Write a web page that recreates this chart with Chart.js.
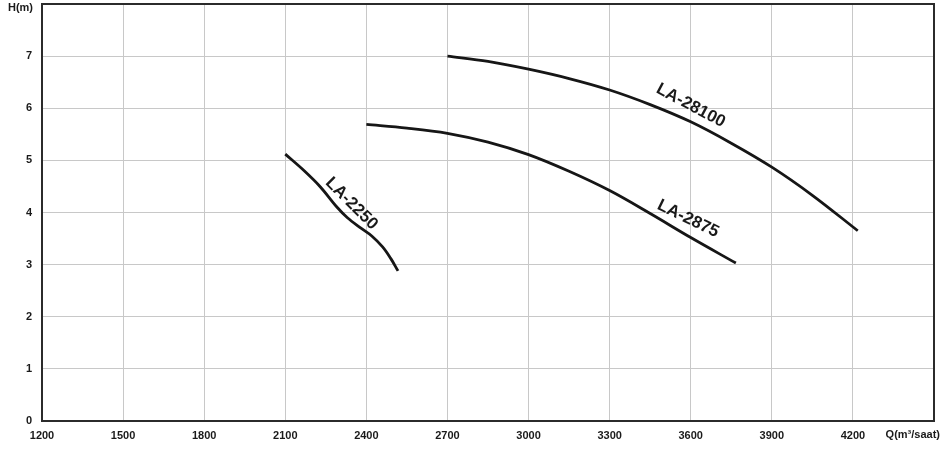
<!DOCTYPE html>
<html>
<head>
<meta charset="utf-8">
<script src="https://cdn.jsdelivr.net/npm/chart.js@4"></script>
<style>
  html, body { margin: 0; padding: 0; background: #fff; }
  #wrap { width: 941px; height: 452px; }
</style>
</head>
<body>
<div id="wrap"><canvas id="grafico"></canvas></div>
<script>
// Q (m3/saat) and H (m)
const q2250 = [2100, 2170, 2230, 2290, 2330, 2380, 2420, 2460, 2490, 2517];
const h2250 = [5.12, 4.80, 4.49, 4.11, 3.90, 3.70, 3.55, 3.34, 3.12, 2.88];

const q2875 = [2400, 2550, 2700, 2850, 3000, 3150, 3300, 3450, 3600, 3767];
const h2875 = [5.69, 5.62, 5.52, 5.35, 5.11, 4.79, 4.42, 3.98, 3.52, 3.03];

const q28100 = [2700, 2850, 3000, 3150, 3300, 3450, 3600, 3750, 3900, 4050, 4218];
const h28100 = [7.00, 6.90, 6.75, 6.57, 6.35, 6.07, 5.74, 5.33, 4.87, 4.33, 3.65];

const xTicks = [1200, 1500, 1800, 2100, 2400, 2700, 3000, 3300, 3600, 3900, 4200, 4500];
const yTicks = [0, 1, 2, 3, 4, 5, 6, 7, 8];

// curve names and where they sit (in data units) with their angle
const curveNames = ['LA-2250', 'LA-2875', 'LA-28100'];
const nameQ = [2345, 3590, 3600];
const nameH = [4.17, 3.88, 6.05];
const nameAngle = [45, 26, 28];

const pts = (qs, hs) => qs.map((q, i) => ({ x: q, y: hs[i] }));

const curve = (label, data) => ({
    label: label,
    data: data,
    borderColor: '#161616',
    borderWidth: 2.8,
    pointRadius: 0,
    fill: false,
    tension: 0.35
});

const frame = {
    id: 'frame',
    afterDraw(chart) {
        const c = chart.ctx;
        const a = chart.chartArea;
        const xs = chart.scales.x, ys = chart.scales.y;
        c.save();
        c.strokeStyle = '#2b2b2b';
        c.lineWidth = 2;
        c.strokeRect(a.left, a.top, a.right - a.left, a.bottom - a.top);

        // axis titles sit in the last tick slots
        c.fillStyle = '#1a1a1a';
        c.font = 'bold 11px Arial, "Liberation Sans", sans-serif';
        c.textAlign = 'right';
        c.textBaseline = 'middle';
        c.fillText('Q(m³/saat)', 940, 435);
        c.fillText('H(m)', 33, 8);

        c.font = 'bold 17px Arial, "Liberation Sans", sans-serif';
        c.textAlign = 'center';
        curveNames.forEach((n, i) => {
            c.save();
            c.translate(xs.getPixelForValue(nameQ[i]), ys.getPixelForValue(nameH[i]));
            c.rotate(nameAngle[i] * Math.PI / 180);
            c.fillText(n, 0, 0);
            c.restore();
        });
        c.restore();
    }
};

Chart.defaults.font.family = 'Arial, "Liberation Sans", sans-serif';

new Chart(document.getElementById('grafico'), {
    type: 'line',
    data: {
        datasets: [
            curve('LA-2250', pts(q2250, h2250)),
            curve('LA-2875', pts(q2875, h2875)),
            curve('LA-28100', pts(q28100, h28100))
        ]
    },
    options: {
        responsive: true,
        maintainAspectRatio: false,
        animation: false,
        layout: { padding: { top: 4, right: 7, left: 6, bottom: 0 } },
        plugins: { legend: { display: false }, tooltip: { enabled: false } },
        scales: {
            x: {
                type: 'linear',
                min: xTicks[0],
                max: xTicks[xTicks.length - 1],
                afterBuildTicks: s => { s.ticks = xTicks.map(v => ({ value: v })); },
                afterFit: s => { s.paddingLeft = 0; s.paddingRight = 0; s.height = 31; },
                grid: { color: '#c8c8c8', lineWidth: 1, drawTicks: false },
                border: { display: false },
                ticks: {
                    padding: 8,
                    color: '#1a1a1a',
                    font: { size: 11, weight: 'bold' },
                    maxRotation: 0,
                    autoSkip: false,
                    callback: v => (v === 4500 ? '' : String(v))
                }
            },
            y: {
                type: 'linear',
                min: yTicks[0],
                max: yTicks[yTicks.length - 1],
                afterBuildTicks: s => { s.ticks = yTicks.map(v => ({ value: v })); },
                afterFit: s => { s.paddingTop = 0; s.paddingBottom = 0; s.width = 36; },
                grid: { color: '#c8c8c8', lineWidth: 1, drawTicks: false },
                border: { display: false },
                ticks: {
                    padding: 10,
                    color: '#1a1a1a',
                    font: { size: 11, weight: 'bold' },
                    autoSkip: false,
                    callback: v => (v === 8 ? '' : String(v))
                }
            }
        }
    },
    plugins: [frame]
});
</script>
</body>
</html>
